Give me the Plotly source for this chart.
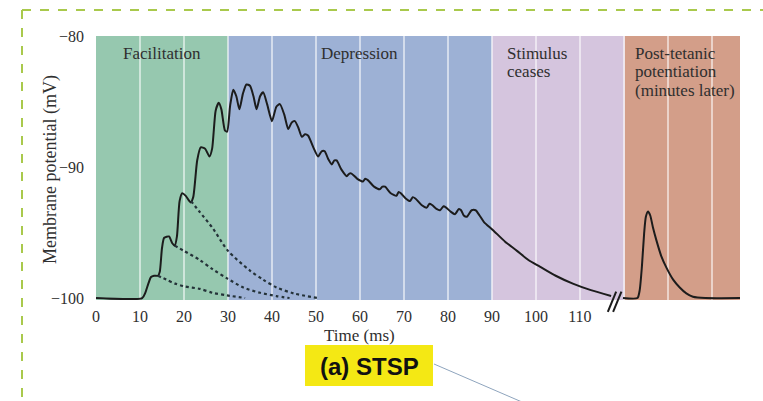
import plotly.graph_objects as go

# ---------------------------------------------------------------- data
# Membrane potential during the stimulus train and its decay (ms, mV)
train_time = [0, 10.5, 11.2, 11.9, 12.5, 13.2, 14.1, 14.5, 15.0, 15.5, 16.6, 17.3, 17.9,
              18.4, 19.0, 19.6, 20.4, 21.5, 22.1, 23.0, 23.8, 24.8, 25.8, 26.4, 27.2, 27.9,
              28.5, 29.3, 29.8, 30.5, 31.2, 31.9, 32.6, 33.4, 34.2, 35.0, 35.8, 36.5, 37.3,
              38.0, 38.9, 40.0, 41.0, 41.8, 42.8, 43.7, 44.5, 45.2, 46.0, 46.8, 47.5, 48.2,
              49.4, 50.5, 51.3, 52.0, 52.8, 53.6, 54.2, 54.7, 55.8, 57.0, 57.6, 58.1, 59.4,
              60.7, 61.2, 61.8, 63.2, 64.5, 65.1, 65.7, 67.0, 68.3, 68.8, 69.3, 70.4, 71.4,
              72.0, 72.6, 74.0, 75.2, 75.8, 76.4, 77.4, 78.2, 79.0, 79.6, 80.6, 81.6, 82.5,
              83.0, 83.6, 84.3, 85.4, 86.3, 87.2, 88.2, 90.2, 93.0, 95.7, 98.3, 100.9,
              104.5, 108.4, 112.5, 117.1]
train_mv = [-100, -100, -99.6, -98.9, -98.4, -98.3, -98.3, -98.0, -96.2, -95.4, -95.3, -95.8, -96.0,
            -95.3, -92.6, -92.0, -92.2, -92.7, -92.3, -89.5, -88.5, -88.6, -89.2, -88.6, -85.7, -85.1,
            -85.6, -87.2, -87.3, -85.3, -84.1, -84.6, -85.6, -84.4, -83.7, -83.8, -84.6, -85.6, -84.6,
            -84.3, -85.2, -86.5, -85.4, -85.2, -86.0, -87.1, -86.6, -86.5, -87.0, -87.7, -87.5, -87.6,
            -88.5, -89.2, -88.8, -88.8, -89.4, -89.8, -89.5, -89.5, -90.2, -90.7, -90.5, -90.5, -90.9,
            -91.1, -90.9, -91.0, -91.5, -91.7, -91.5, -91.5, -92.0, -92.2, -91.9, -92.0, -92.4, -92.6,
            -92.3, -92.4, -92.9, -93.1, -92.8, -92.9, -93.2, -93.3, -93.0, -93.1, -93.4, -93.6, -93.2,
            -93.3, -93.7, -93.8, -93.3, -93.3, -93.7, -94.2, -94.8, -95.7, -96.4, -97.1, -97.6,
            -98.3, -98.9, -99.4, -99.85]

# Single response recorded minutes after the train
ptp_time = [119.8, 123.1, 123.6, 124.1, 124.6, 125.0, 125.5, 126.0, 126.6, 127.4, 128.5,
            129.7, 131.2, 132.7, 134.2, 135.7, 138.5, 146.4]
ptp_mv = [-100, -100, -99.4, -97.6, -95.1, -93.8, -93.4, -93.7, -94.6, -95.6, -96.8,
          -97.7, -98.6, -99.2, -99.65, -99.9, -100, -100]

# Decay of the first three responses had no further stimulus arrived
decay1_time = [14.1, 16.0, 18.0, 20.0, 23.6, 26.5, 29.8, 33.9]
decay1_mv = [-98.3, -98.6, -98.9, -99.1, -99.3, -99.6, -99.8, -100]
decay2_time = [17.9, 20.0, 23.6, 26.5, 29.8, 33.5, 37.3, 41.0, 44.0]
decay2_mv = [-96.0, -96.4, -97.1, -97.8, -98.5, -99.2, -99.6, -99.85, -100]
decay3_time = [21.6, 23.5, 26.6, 30.0, 35.0, 38.0, 41.1, 45.0, 50.5]
decay3_mv = [-92.6, -93.4, -94.7, -96.4, -97.9, -98.6, -99.2, -99.65, -100]

region_names = [["Facilitation"], ["Depression"], ["Stimulus", "ceases"],
                ["Post-tetanic", "potentiation", "(minutes later)"]]
region_start = [0, 30, 90, 120.2]
region_end = [30, 90, 120.2, 146.4]
region_colors = ["#96c8af", "#9db1d5", "#d5c5de", "#d39e89"]

x_tick_vals = list(range(0, 150, 10))
x_tick_text = [str(v) if v <= 110 else "" for v in x_tick_vals]
y_tick_vals = [-100, -90, -80]
y_tick_text = ["\u2212100", "\u221290", "\u221280"]

break_marks = [117.3, 118.5]
x_title = "Time (ms)"
y_title = "Membrane potential (mV)"
panel_label = "(a) STSP"

# ---------------------------------------------------------------- layout helpers
W, H = 763, 401
L, R, T, B = 96, 23, 36, 101
PW, PH = W - L - R, H - T - B


def px(x):
    return (x - L) / PW


def py(y):
    return (H - B - y) / PH


SERIF = "Liberation Serif, Times New Roman, serif"
TXT = "#2f2f2f"
INK = "#1c1c1c"

fig = go.Figure()

fig.add_trace(go.Scatter(x=train_time, y=train_mv, mode="lines",
                         line=dict(color=INK, width=2, shape="spline", smoothing=0.6),
                         hoverinfo="skip"))
fig.add_trace(go.Scatter(x=ptp_time, y=ptp_mv, mode="lines",
                         line=dict(color=INK, width=2, shape="spline", smoothing=0.6),
                         hoverinfo="skip"))
for xs, ys in [(decay1_time, decay1_mv), (decay2_time, decay2_mv), (decay3_time, decay3_mv)]:
    fig.add_trace(go.Scatter(x=xs, y=ys, mode="lines",
                             line=dict(color="#243238", width=2.2, dash="dot",
                                       shape="spline", smoothing=0.8),
                             hoverinfo="skip"))

shapes = []
for x0, x1, col in zip(region_start, region_end, region_colors):
    shapes.append(dict(type="rect", xref="x", yref="paper", x0=x0, x1=x1, y0=0, y1=1,
                       fillcolor=col, line=dict(width=0), layer="below"))

# axis break strokes
for xb in break_marks:
    shapes.append(dict(type="line", xref="x", yref="paper",
                       x0=xb - 0.95, x1=xb + 0.95, y0=-0.045, y1=0.032,
                       line=dict(color=INK, width=2)))

# dashed frame around the panel
frame = dict(color="#a9c94c", width=2, dash="dash")
shapes.append(dict(type="line", xref="paper", yref="paper",
                   x0=px(22), x1=px(W + 5), y0=py(10), y1=py(10), line=frame))
shapes.append(dict(type="line", xref="paper", yref="paper",
                   x0=px(22), x1=px(22), y0=py(10), y1=py(H + 5), line=frame))

# panel label box and its leader line
shapes.append(dict(type="rect", xref="paper", yref="paper",
                   x0=px(305), x1=px(433), y0=py(386), y1=py(345),
                   fillcolor="#f4e814", line=dict(width=0)))
shapes.append(dict(type="line", xref="paper", yref="paper",
                   x0=px(434), x1=px(522), y0=py(364), y1=py(402),
                   line=dict(color="#8ea4bd", width=1)))

annotations = []
label_pos = [(15, "center"), (60, "center"), (93.0, "left"), (122.0, "left")]
LINE_STEP = 18.5
for lines, (xa, al) in zip(region_names, label_pos):
    for i, line in enumerate(lines):
        annotations.append(dict(x=xa, y=py(53 + i * LINE_STEP), xref="x", yref="paper", text=line,
                                showarrow=False, xanchor=al, yanchor="middle",
                                font=dict(family=SERIF, size=17, color=TXT)))

annotations.append(dict(x=60, y=py(336), xref="x", yref="paper", text=x_title,
                        showarrow=False, xanchor="center", yanchor="middle",
                        font=dict(family=SERIF, size=17, color=TXT)))
annotations.append(dict(x=px(50), y=py(170), xref="paper", yref="paper", text=y_title,
                        textangle=-90, showarrow=False, xanchor="center", yanchor="middle",
                        font=dict(family=SERIF, size=18, color=TXT)))
annotations.append(dict(x=px(369), y=py(366), xref="paper", yref="paper", text=f"<b>{panel_label}</b>",
                        showarrow=False, xanchor="center", yanchor="middle",
                        font=dict(family="Liberation Sans, Arial, sans-serif", size=24, color="#111111")))

fig.update_layout(
    width=W, height=H,
    margin=dict(l=L, r=R, t=T, b=B, pad=0),
    paper_bgcolor="white", plot_bgcolor="white",
    showlegend=False,
    shapes=shapes,
    annotations=annotations,
    xaxis=dict(range=[0, 146.4], tickvals=x_tick_vals, ticktext=x_tick_text,
               showgrid=True, gridcolor="rgba(255,255,255,0.55)", gridwidth=1.5,
               zeroline=False, showline=False, ticks="", ticklabelstandoff=5,
               tickfont=dict(family=SERIF, size=16, color=TXT), fixedrange=True),
    yaxis=dict(range=[-100.15, -80], tickvals=y_tick_vals, ticktext=y_tick_text,
               showgrid=False, zeroline=False, showline=False, ticks="",
               ticklabelstandoff=11,
               tickfont=dict(family=SERIF, size=16, color=TXT), fixedrange=True),
)

fig.write_html("out.html")
